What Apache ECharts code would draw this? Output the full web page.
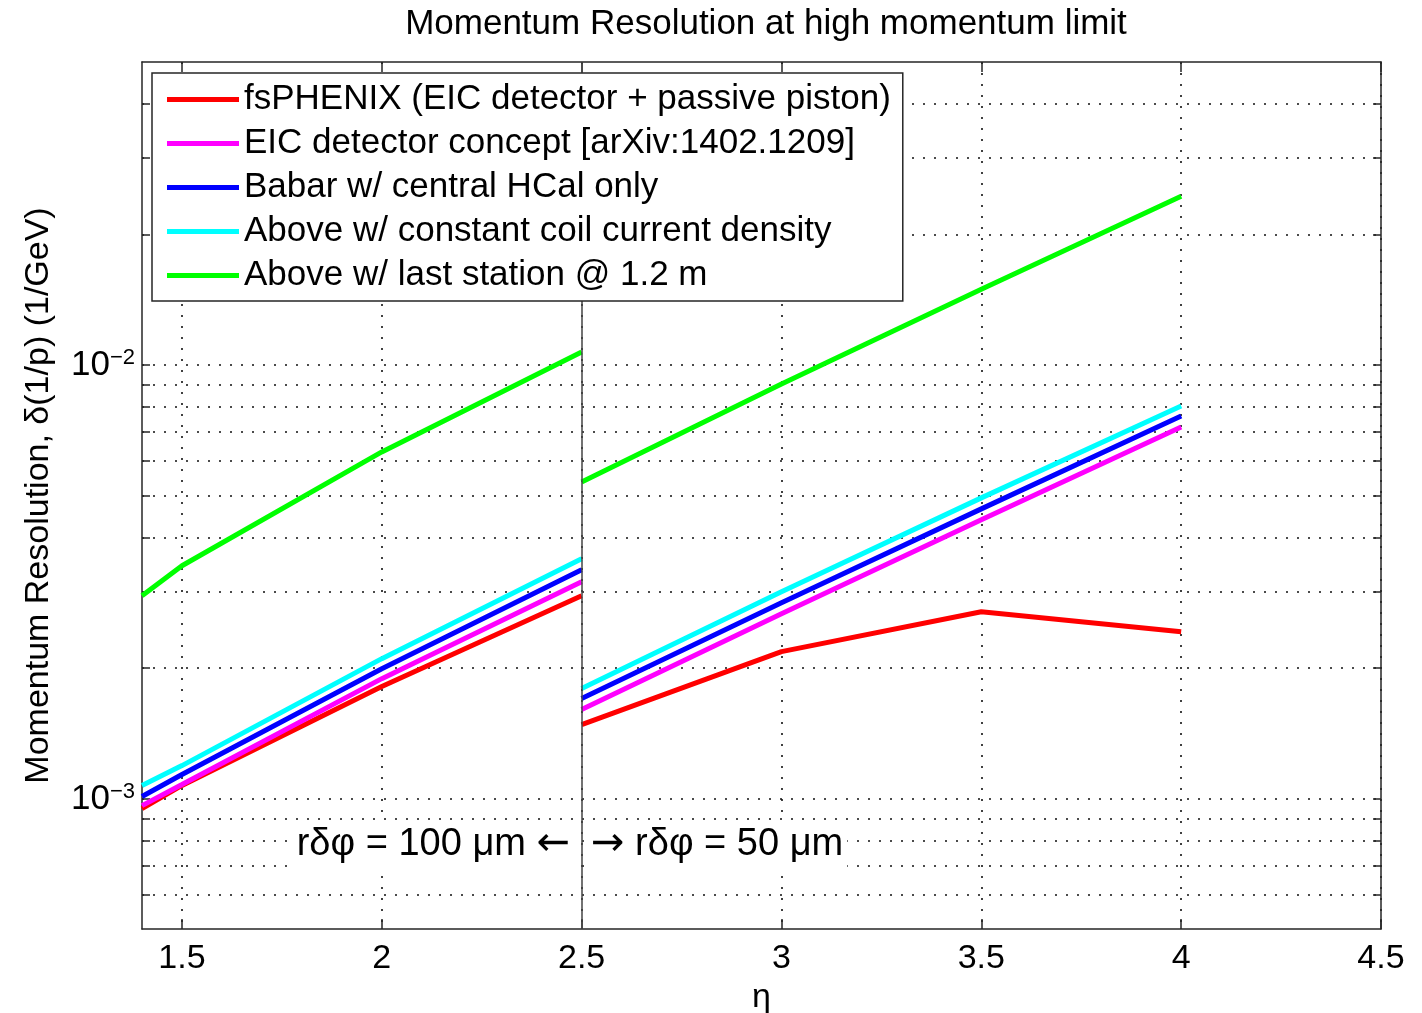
<!doctype html>
<html lang="en">
<head>
<meta charset="UTF-8">
<title>Momentum Resolution at high momentum limit</title>
<script src="https://cdn.jsdelivr.net/npm/echarts@6/dist/echarts.min.js"></script>
<style>
	html, body { margin: 0; padding: 0; background: #fff; }
	#chart { width: 1422px; height: 1013px; }
</style>
</head>
<body>
<div id="chart"></div>
<script>
// eta points, left part (r dphi = 100 um) and right part (r dphi = 50 um)
var etaLeft = [1.4, 1.5, 2.0, 2.5];
var etaRight = [2.5, 3.0, 3.5, 4.0];

// momentum resolution (1/GeV)
var fsphenixLeft = [0.000948, 0.001072, 0.001812, 0.002936];
var fsphenixRight = [0.001481, 0.002182, 0.002697, 0.002425];
var eicLeft = [0.000963, 0.001077, 0.00189, 0.003162];
var eicRight = [0.001604, 0.002669, 0.004394, 0.007196];
var babarLeft = [0.001011, 0.001136, 0.001993, 0.00337];
var babarRight = [0.0017, 0.002829, 0.004657, 0.007629];
var coilLeft = [0.001072, 0.001191, 0.002102, 0.003573];
var coilRight = [0.001793, 0.002999, 0.004937, 0.008043];
var stationLeft = [0.002936, 0.003442, 0.006302, 0.010715];
var stationRight = [0.005374, 0.009042, 0.014962, 0.024515];

var seriesNames = [
	'fsPHENIX (EIC detector + passive piston)',
	'EIC detector concept [arXiv:1402.1209]',
	'Babar w/ central HCal only',
	'Above w/ constant coil current density',
	'Above w/ last station @ 1.2 m'
];
var seriesColors = ['#ff0000', '#ff00ff', '#0000ff', '#00ffff', '#00ff00'];

// tick values
var xTicks = [1.5, 2, 2.5, 3, 3.5, 4, 4.5];
var yTicks = [0.0006, 0.0007, 0.0008, 0.0009, 0.001, 0.002, 0.003, 0.004, 0.005,
	0.006, 0.007, 0.008, 0.009, 0.01, 0.02, 0.03, 0.04];
var yLabels = [0.001, 0.01];

var font = '"Liberation Sans", Arial, sans-serif';
var ink = '#262626';

// put both halves in one series with a gap at eta = 2.5
function joinParts(left, right) {
	var pts = [];
	for (var i = 0; i < etaLeft.length; i++) pts.push([etaLeft[i], left[i]]);
	pts.push([2.5, '-']);
	for (var j = 0; j < etaRight.length; j++) pts.push([etaRight[j], right[j]]);
	return pts;
}

var parts = [
	[fsphenixLeft, fsphenixRight],
	[eicLeft, eicRight],
	[babarLeft, babarRight],
	[coilLeft, coilRight],
	[stationLeft, stationRight]
];

var series = parts.map(function (p, k) {
	return {
		name: seriesNames[k],
		type: 'line',
		xAxisIndex: 0,
		yAxisIndex: 0,
		data: joinParts(p[0], p[1]),
		symbol: 'none',
		connectNulls: false,
		lineStyle: { color: seriesColors[k], width: 5 },
		itemStyle: { color: seriesColors[k] }
	};
});

// solid divider at eta = 2.5
series[4].markLine = {
	silent: true,
	symbol: 'none',
	label: { show: false },
	lineStyle: { color: '#444', width: 1.5, type: 'solid' },
	data: [{ xAxis: 2.5 }]
};

var gridLine = { show: true, lineStyle: { color: '#111', width: 1.6, type: [2, 9] } };

var myChart = echarts.init(document.getElementById('chart'));
var option = {
	animation: false,
	backgroundColor: '#fff',
	title: {
		text: 'Momentum Resolution at high momentum limit',
		left: 761,
		top: 2,
		textAlign: 'center',
		textStyle: { fontSize: 35, fontWeight: 'normal', color: '#000', fontFamily: font }
	},
	legend: {
		z: 20,
		orient: 'vertical',
		left: 152,
		top: 73,
		padding: [9, 12, 8, 15],
		icon: 'rect',
		itemWidth: 72,
		itemHeight: 5,
		itemGap: 9,
		backgroundColor: '#fff',
		borderColor: ink,
		borderWidth: 1.5,
		selectedMode: false,
		textStyle: { fontSize: 35, lineHeight: 34, color: '#000', fontFamily: font },
		data: seriesNames
	},
	grid: { left: 142, right: 41, top: 62, bottom: 84, containLabel: false, outerBoundsMode: 'none' },
	xAxis: [{
		type: 'value',
		position: 'bottom',
		min: 1.4,
		max: 4.5,
		name: 'η',
		nameLocation: 'middle',
		nameGap: 52,
		nameTextStyle: { fontSize: 34, color: '#000', fontFamily: font },
		axisLine: { show: true, onZero: false, lineStyle: { color: ink, width: 1.5 } },
		axisTick: { show: true, inside: true, length: 10, customValues: xTicks, lineStyle: { color: ink, width: 1.5 } },
		axisLabel: {
			customValues: xTicks, margin: 13, fontSize: 34, color: '#000', fontFamily: font,
			formatter: function (v) { return String(v); }
		},
		splitLine: gridLine
	}, {
		type: 'value',
		position: 'top',
		min: 1.4,
		max: 4.5,
		axisLine: { show: true, onZero: false, lineStyle: { color: ink, width: 1.5 } },
		axisTick: { show: true, inside: true, length: 10, customValues: xTicks, lineStyle: { color: ink, width: 1.5 } },
		axisLabel: { show: false },
		splitLine: { show: false }
	}],
	yAxis: [{
		type: 'log',
		logBase: 10,
		position: 'left',
		min: 0.0005,
		max: 0.05,
		name: 'Momentum Resolution, δ(1/p) (1/GeV)',
		nameLocation: 'middle',
		nameGap: 86,
		nameTextStyle: { fontSize: 34, color: '#000', fontFamily: font },
		axisLine: { show: true, onZero: false, lineStyle: { color: ink, width: 1.5 } },
		axisTick: { show: true, inside: true, length: 8, customValues: yTicks, lineStyle: { color: ink, width: 1.5 } },
		axisLabel: {
			customValues: yLabels,
			margin: 7,
			formatter: function (v) {
				var e = Math.round(Math.log(v) / Math.LN10);
				return '{b|10}{s|−' + (-e) + '}';
			},
			rich: {
				b: { fontSize: 35, lineHeight: 36, padding: [14, 0, 0, 0], verticalAlign: 'bottom', color: '#000', fontFamily: font },
				s: { fontSize: 22, lineHeight: 22, verticalAlign: 'top', color: '#000', fontFamily: font }
			}
		},
		splitLine: gridLine
	}, {
		type: 'log',
		logBase: 10,
		position: 'right',
		min: 0.0005,
		max: 0.05,
		axisLine: { show: true, onZero: false, lineStyle: { color: ink, width: 1.5 } },
		axisTick: { show: true, inside: true, length: 8, customValues: yTicks, lineStyle: { color: ink, width: 1.5 } },
		axisLabel: { show: false },
		splitLine: { show: false }
	}],
	graphic: [{
		type: 'text',
		x: 574,
		y: 845,
		z: 10,
		style: {
			text: '{t|rδφ = 100 μm }{a|←}',
			align: 'right',
			verticalAlign: 'middle',
			backgroundColor: '#fff',
			padding: [4, 4],
			rich: {
				t: { fontSize: 38, fontFamily: font, fill: '#000' },
				a: { fontSize: 40, fontFamily: '"DejaVu Sans", sans-serif', fill: '#000' }
			}
		}
	}, {
		type: 'text',
		x: 587,
		y: 845,
		z: 10,
		style: {
			text: '{a|→}{t| rδφ = 50 μm}',
			align: 'left',
			verticalAlign: 'middle',
			backgroundColor: '#fff',
			padding: [4, 4],
			rich: {
				t: { fontSize: 38, fontFamily: font, fill: '#000' },
				a: { fontSize: 40, fontFamily: '"DejaVu Sans", sans-serif', fill: '#000' }
			}
		}
	}],
	series: series
};
myChart.setOption(option);
</script>
</body>
</html>
